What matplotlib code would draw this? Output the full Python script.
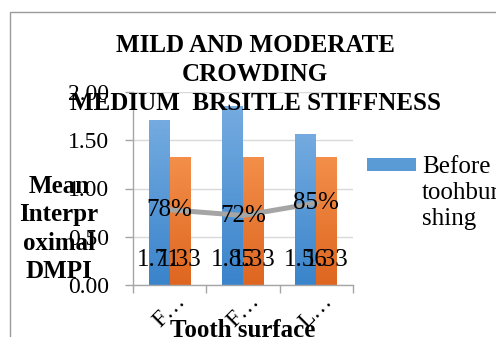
import matplotlib
matplotlib.use("Agg")
import matplotlib.pyplot as plt
import numpy as np
from matplotlib.patches import Rectangle
from matplotlib.colors import LinearSegmentedColormap
from matplotlib.transforms import ScaledTranslation

# Chart data
categories = ["F…", "F…", "L…"]
before_brushing = [1.71, 1.85, 1.56]
after_brushing = [1.33, 1.33, 1.33]
reduction_pct = [78, 72, 85]
y_ticks = [0.0, 0.5, 1.0, 1.5, 2.0]

plt.rcParams["font.family"] = ["Liberation Serif", "DejaVu Serif"]

W, H = 496, 337
fig = plt.figure(figsize=(W / 100, H / 100), dpi=100)
fig.patch.set_facecolor("white")

def px_x(x):
    return x / W

def px_y(y):
    return 1 - y / H

ax = fig.add_axes([px_x(133), px_y(285), px_x(353) - px_x(133), px_y(92) - px_y(285)])
ax.set_facecolor("white")

x = np.arange(len(categories))
bw = 0.285
blue_bars = ax.bar(x - bw / 2, before_brushing, width=bw, color="#5B9BD5", zorder=2)
orange_bars = ax.bar(x + bw / 2, after_brushing, width=bw, color="#ED7D31", zorder=2)

# vertical gradient fill on each bar
def shade(bars, top, bottom):
    cmap = LinearSegmentedColormap.from_list("g", [bottom, top])
    grad = np.linspace(0, 1, 64).reshape(-1, 1)
    for b in bars:
        x0, y0 = b.get_x(), b.get_y()
        w, h = b.get_width(), b.get_height()
        im = ax.imshow(grad, cmap=cmap, origin="lower", aspect="auto",
                       extent=(x0, x0 + w, y0, y0 + h), zorder=2.1)
        im.set_clip_path(b)

shade(blue_bars, "#74ABE0", "#3A84CB")
shade(orange_bars, "#F38F4A", "#DE6620")

# reduction line plotted on the same scale (fraction)
line_vals = [p / 100 for p in reduction_pct]
ax.plot(x, line_vals, color="#A5A5A5", lw=3.6, solid_capstyle="round", zorder=3)
for xi, v, p in zip(x, line_vals, reduction_pct):
    ax.text(xi, v, f"{p}%", ha="center", va="center", fontsize=18, zorder=5)

# value labels near the base of the bars
for bars, vals in ((blue_bars, before_brushing), (orange_bars, after_brushing)):
    for b, v in zip(bars, vals):
        ax.annotate(f"{v:.2f}", (b.get_x() + b.get_width() / 2, 0),
                    xytext=(0, 18), textcoords="offset points",
                    ha="center", va="center", fontsize=18, zorder=5)

ax.set_xlim(-0.5, len(categories) - 0.5)
ax.set_ylim(0, 2.0)
ax.set_yticks(y_ticks)
ax.set_yticklabels([f"{t:.2f}" for t in y_ticks], fontsize=17)
ax.yaxis.grid(True, color="#D9D9D9", lw=1, zorder=0)
ax.set_axisbelow(True)

ax.set_xticks(x)
ax.set_xticklabels(categories, rotation=45, rotation_mode="anchor",
                   ha="center", va="center", fontsize=17)
shift = ScaledTranslation(5 / 100, 0, fig.dpi_scale_trans)
for lbl in ax.get_xticklabels():
    lbl.set_transform(lbl.get_transform() + shift)
ax.set_xticks(np.arange(len(categories) + 1) - 0.5, minor=True)
ax.tick_params(axis="x", which="major", length=0, pad=19)
ax.tick_params(axis="x", which="minor", length=6, color="#A6A6A6", width=1)
ax.tick_params(axis="y", length=6, color="#A6A6A6", width=1, pad=11)

for side in ("top", "right"):
    ax.spines[side].set_visible(False)
for side in ("left", "bottom"):
    ax.spines[side].set_color("#A6A6A6")
    ax.spines[side].set_linewidth(1)

ax.set_xlabel("Tooth surface", fontsize=18, fontweight="bold")
ax.xaxis.set_label_coords(0.5, -0.175)
ax.xaxis.label.set_va("top")

ax.set_ylabel("Mean\nInterpr\noximal\nDMPI", fontsize=18, fontweight="bold",
              rotation=0, ha="center", va="center", linespacing=1.3)
ax.yaxis.set_label_coords(-0.336, 0.29)

fig.text(px_x(255), px_y(34), "MILD AND MODERATE\nCROWDING\nMEDIUM  BRSITLE STIFFNESS",
         ha="center", va="top", fontsize=18, fontweight="bold", linespacing=1.33,
         zorder=10)

# legend entry
fig.patches.append(Rectangle((px_x(367), px_y(171)), px_x(416) - px_x(367),
                             px_y(158) - px_y(171), transform=fig.transFigure,
                             facecolor="#5B9BD5", edgecolor="none"))
fig.text(px_x(422), px_y(156), "Before\ntoohbur\nshing", ha="left", va="top",
         fontsize=18, linespacing=1.25)

# chart border
fig.patches.append(Rectangle((px_x(10), -0.1), 1.2, px_y(12) + 0.1,
                             transform=fig.transFigure, facecolor="none",
                             edgecolor="#9A9A9A", lw=1))

fig.savefig("out.png", dpi=100)
